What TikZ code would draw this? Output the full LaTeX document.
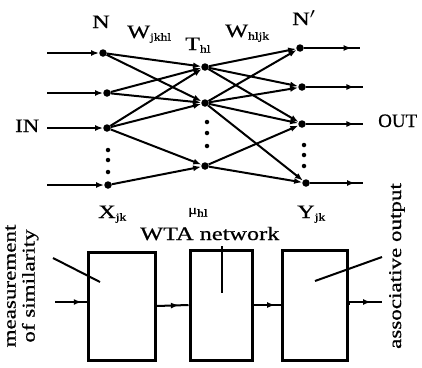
\documentclass[tikz,border=0pt]{standalone}
\usepackage{fontspec}
\setmainfont{Liberation Serif}[FakeBold=0.6]
\usepackage{graphicx}
\usetikzlibrary{arrows.meta,decorations.markings}
% wide setting of the label lettering
\newcommand{\widetext}[2][1.28]{\scalebox{#1}[1]{#2}}
% small lowered index letters
\newcommand{\idx}[1]{\raisebox{-2.5pt}{\fontsize{10.5}{12}\selectfont #1}}

\begin{document}
\begin{tikzpicture}[x=1pt,y=-1pt,
  lbl/.style={inner sep=0pt, anchor=base west, font=\fontsize{19}{22}\selectfont},
  vlbl/.style={inner sep=0pt, rotate=90, align=center, font=\fontsize{18}{19}\selectfont},
  neuron/.style={circle, fill=black, inner sep=0pt, minimum size=7.5pt},
  dotmark/.style={circle, fill=black, inner sep=0pt, minimum size=4.5pt},
  edge/.style={line width=2pt, -{Latex[length=8pt,width=6pt]}},
  wire/.style={line width=2pt},
  tipat/.style={postaction={decorate}, decoration={markings,
      mark=at position #1 with {\arrow{Latex[length=8pt,width=6pt]}}}},
  block/.style={draw, line width=3pt, inner sep=0pt},
]
\useasboundingbox (0,0) rectangle (422,367);

% ---------- input layer N ----------
\node[neuron] (I1) at (103,53) {};
\node[neuron] (I2) at (107,93) {};
\node[neuron] (I3) at (107,128) {};
\node[neuron] (I4) at (108,185) {};
\node[dotmark] (Id1) at (108,150) {};
\node[dotmark] (Id2) at (108,160) {};
\node[dotmark] (Id3) at (108,172) {};

% ---------- hidden layer T ----------
\node[neuron] (T1) at (205,67) {};
\node[neuron] (T2) at (205,103) {};
\node[neuron] (T3) at (205,166) {};
\node[dotmark] (Td1) at (207,122) {};
\node[dotmark] (Td2) at (207,133) {};
\node[dotmark] (Td3) at (207,146) {};

% ---------- output layer N' ----------
\node[neuron] (O1) at (300,48) {};
\node[neuron] (O2) at (302,87) {};
\node[neuron] (O3) at (302,124) {};
\node[neuron] (O4) at (306,183) {};
\node[dotmark] (Od1) at (304,145) {};
\node[dotmark] (Od2) at (304,155) {};
\node[dotmark] (Od3) at (304,166) {};

% ---------- free ends of the input and output lines ----------
\coordinate (in1) at (47,53);
\coordinate (in2) at (47,93);
\coordinate (in3) at (47,128);
\coordinate (in4) at (47,185);
\coordinate (out1) at (360,48);
\coordinate (out2) at (363,87);
\coordinate (out3) at (363,124);
\coordinate (out4) at (363,183);

\foreach \k in {1,2,3,4} {
  \draw[edge] (in\k) -- (I\k);
  \draw[wire, tipat=0.85] (O\k) -- (out\k);
}

% ---------- weights W_jkhl ----------
\foreach \a/\b in {I1/T1, I1/T2, I2/T1, I2/T2, I3/T1, I3/T2, I3/T3, I4/T3}
  \draw[edge] (\a) -- (\b);

% ---------- weights W_hljk ----------
\foreach \a/\b in {T1/O1, T1/O2, T1/O3, T2/O1, T2/O2, T2/O3, T2/O4, T3/O3, T3/O4}
  \draw[edge] (\a) -- (\b);

% ---------- labels of the network ----------
\node[lbl] (lN) at (92,28) {\widetext{N}};
\node[lbl] (lW1) at (127,38) {\widetext{W\idx{jkhl}}};
\node[lbl] (lT) at (185,50) {\widetext{T\idx{hl}}};
\node[lbl] (lW2) at (225,37) {\widetext{W\idx{hljk}}};
\node[lbl] (lN2) at (292,25) {\widetext{N$'$}};
\node[lbl] (lIN) at (15,132) {\widetext[1.2]{IN}};
\node[lbl] (lOUT) at (378,127) {OUT};
\node[lbl] (lX) at (98,218) {\widetext{X\idx{jk}}};
\node[lbl, font=\fontsize{13}{14}\selectfont] (lmu) at (188,214) {\widetext{μ\idx{hl}}};
\node[lbl] (lY) at (297,218) {\widetext{Y\idx{jk}}};
\node[lbl] (lWTA) at (140,240) {\widetext{WTA network}};

% ---------- block diagram ----------
\node[block, minimum width=67pt, minimum height=108pt] (B1) at (121.5,306) {};
\node[block, minimum width=62pt, minimum height=110pt] (B2) at (221,305) {};
\node[block, minimum width=65pt, minimum height=110pt] (B3) at (314.5,305) {};

\coordinate (bin) at (55,302);
\coordinate (bout) at (382,302);
\draw[wire, tipat=0.85] (bin) -- (bin -| B1.west);
\draw[wire, tipat=0.7] (B1.east) -- (B2.west);
\draw[wire, tipat=0.8] (B2.east) -- (B3.west);
\draw[wire, tipat=0.7] (B3.east) -- (bout -| B3.east) -- (bout);

% pointer lines from the captions into the blocks
\coordinate (p1a) at (53,258);
\coordinate (p1b) at (100,282);
\coordinate (p2a) at (222,246);
\coordinate (p2b) at (222,293);
\coordinate (p3a) at (382,257);
\coordinate (p3b) at (315,281);
\draw[wire] (p1a) -- (p1b);
\draw[wire] (p2a) -- (p2b);
\draw[wire] (p3a) -- (p3b);

% captions of the blocks
\node[vlbl] (lMeas) at (22,286) {\widetext{measurement}\\\widetext{of similarity}};
\node[vlbl] (lAssoc) at (397,266) {\widetext{associative output}};
\end{tikzpicture}
\end{document}
